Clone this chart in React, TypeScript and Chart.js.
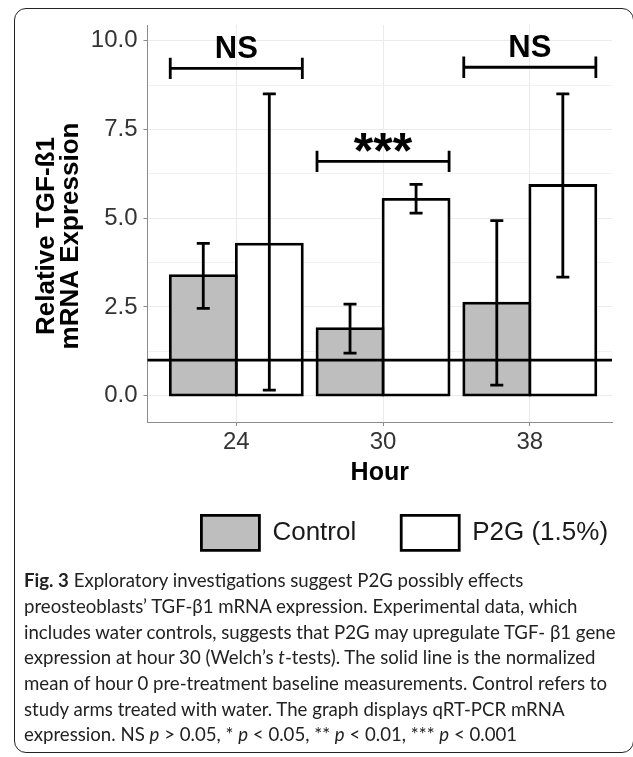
import React, { useEffect, useLayoutEffect, useRef, useState } from 'react';
import { Chart, registerables } from 'chart.js';

Chart.register(...registerables);

// ---------------- data ----------------
const HOURS = ['24', '30', '38'];
const SERIES_NAMES = ['Control', 'P2G (1.5%)'];
const CONTROL_MEAN = [3.38, 1.89, 2.61];
const CONTROL_LOW = [2.46, 1.2, 0.3];
const CONTROL_HIGH = [4.29, 2.58, 4.93];
const P2G_MEAN = [4.27, 5.53, 5.92];
const P2G_LOW = [0.16, 5.14, 3.34];
const P2G_HIGH = [8.5, 5.95, 8.5];
const BASELINE = 1.0;
const SIG_LABELS = ['NS', '***', 'NS'];
const SIG_HEIGHT = [9.22, 6.6, 9.25];
const Y_TICKS = [0, 2.5, 5, 7.5, 10];
const Y_TITLE = ['Relative TGF-ß1', 'mRNA Expression'];
const X_TITLE = 'Hour';

const CAPTION_LINES: Array<Array<[string, string?]>> = [
  [['Fig. 3', 'b'], [' Exploratory investigations suggest P2G possibly effects']],
  [['preosteoblasts’ TGF-β1 mRNA expression. Experimental data, which']],
  [['includes water controls, suggests that P2G may upregulate TGF- β1 gene']],
  [['expression at hour 30 (Welch’s '], ['t', 'i'], ['-tests). The solid line is the normalized']],
  [['mean of hour 0 pre-treatment baseline measurements. Control refers to']],
  [['study arms treated with water. The graph displays qRT-PCR mRNA']],
  [
    ['expression. NS '], ['p', 'i'], [' > 0.05, * '], ['p', 'i'], [' < 0.05, ** '], ['p', 'i'],
    [' < 0.01, *** '], ['p', 'i'], [' < 0.001'],
  ],
];

// ---------------- styles ----------------
const FONT = '"Liberation Sans", Arial, Helvetica, sans-serif';
const CONTROL_FILL = '#bebebe';
const P2G_FILL = '#ffffff';
const STROKE = '#000000';
const LINE_W = 2.8;
const CAP_HALF = 6.5;
const TIP = 0.3;
const GRID_MAJOR = '#ebebeb';
const GRID_MINOR = '#f1f1f1';
const AXIS_GRAY = '#8c8c8c';
const TICK_TEXT = '#333333';
const SIG_STYLE: Record<string, { size: number; dy: number }> = {
  NS: { size: 31, dy: -10 },
  '***': { size: 50, dy: 7 },
};
const LEGEND_LEFT = 156.4;
const LEGEND_TOP = 470.4;
const Y_TITLE_X = 47;
const Y_TITLE_SHIFT = 12.5;
const Y_TITLE_SIZE = 26;
const Y_TITLE_LINE = 24;

const ERRORS = [
  [CONTROL_LOW, CONTROL_HIGH],
  [P2G_LOW, P2G_HIGH],
];

const annotations = {
  id: 'annotations',
  afterDatasetsDraw(chart: any) {
    const { ctx, chartArea } = chart;
    const y = chart.scales.y;
    const metas = [chart.getDatasetMeta(0), chart.getDatasetMeta(1)];
    ctx.save();
    ctx.strokeStyle = STROKE;
    ctx.lineWidth = LINE_W;
    ctx.lineCap = 'butt';

    // error bars
    metas.forEach((meta: any, d: number) => {
      const [lo, hi] = ERRORS[d];
      meta.data.forEach((bar: any, i: number) => {
        const x = bar.x;
        const y1 = y.getPixelForValue(lo[i]);
        const y2 = y.getPixelForValue(hi[i]);
        ctx.beginPath();
        ctx.moveTo(x, y1);
        ctx.lineTo(x, y2);
        ctx.moveTo(x - CAP_HALF, y1);
        ctx.lineTo(x + CAP_HALF, y1);
        ctx.moveTo(x - CAP_HALF, y2);
        ctx.lineTo(x + CAP_HALF, y2);
        ctx.stroke();
      });
    });

    // baseline (hour 0 normalized mean)
    const yb = y.getPixelForValue(BASELINE);
    ctx.beginPath();
    ctx.moveTo(chartArea.left, yb);
    ctx.lineTo(chartArea.right, yb);
    ctx.stroke();

    // significance brackets
    SIG_LABELS.forEach((label, i) => {
      const a = metas[0].data[i];
      const b = metas[1].data[i];
      const x1 = a.x - a.width / 2;
      const x2 = b.x + b.width / 2;
      const yy = y.getPixelForValue(SIG_HEIGHT[i]);
      const yTop = y.getPixelForValue(SIG_HEIGHT[i] + TIP);
      const yBot = y.getPixelForValue(SIG_HEIGHT[i] - TIP);
      ctx.beginPath();
      ctx.moveTo(x1, yy);
      ctx.lineTo(x2, yy);
      ctx.moveTo(x1, yTop);
      ctx.lineTo(x1, yBot);
      ctx.moveTo(x2, yTop);
      ctx.lineTo(x2, yBot);
      ctx.stroke();
      const st = SIG_STYLE[label] || { size: 31, dy: -10 };
      ctx.fillStyle = STROKE;
      ctx.font = `bold ${st.size}px ${FONT}`;
      ctx.textAlign = 'center';
      ctx.textBaseline = 'alphabetic';
      ctx.fillText(label, (x1 + x2) / 2, yy + st.dy);
    });
    ctx.restore();
  },
};

// y-axis title, two centred lines, rotated
const yAxisTitle = {
  id: 'yAxisTitle',
  afterDraw(chart: any) {
    const s = chart.scales.y;
    const text = s.options.title.text;
    const lines = Array.isArray(text) ? text : [text];
    const ctx = chart.ctx;
    ctx.save();
    ctx.translate(Y_TITLE_X, (s.top + s.bottom) / 2 + Y_TITLE_SHIFT);
    ctx.rotate(-Math.PI / 2);
    ctx.fillStyle = '#000';
    ctx.font = `bold ${Y_TITLE_SIZE}px ${FONT}`;
    ctx.textAlign = 'center';
    ctx.textBaseline = 'middle';
    lines.forEach((l: string, i: number) => ctx.fillText(l, 0, i * Y_TITLE_LINE));
    ctx.restore();
  },
};

const legendPlacement = {
  id: 'legendPlacement',
  afterLayout(chart: any) {
    const lg = chart.legend;
    if (!lg) return;
    lg.left = LEGEND_LEFT;
    lg.right = LEGEND_LEFT + 620;
    lg.top = LEGEND_TOP;
    lg.bottom = LEGEND_TOP + lg.height;
  },
};

function makeConfig(): any {
  return {
    type: 'bar',
    data: {
      datasets: [
        {
          label: SERIES_NAMES[0],
          data: CONTROL_MEAN.map((v, i) => ({ x: i, y: v })),
          backgroundColor: CONTROL_FILL,
          borderColor: STROKE,
          borderWidth: LINE_W,
          borderSkipped: false,
          inflateAmount: LINE_W / 2,
        },
        {
          label: SERIES_NAMES[1],
          data: P2G_MEAN.map((v, i) => ({ x: i, y: v })),
          backgroundColor: P2G_FILL,
          borderColor: STROKE,
          borderWidth: LINE_W,
          borderSkipped: false,
          inflateAmount: LINE_W / 2,
        },
      ],
    },
    options: {
      animation: false,
      responsive: true,
      maintainAspectRatio: false,
      events: [],
      categoryPercentage: 0.9,
      barPercentage: 1.0,
      layout: { padding: { left: 20, right: 21, top: 25, bottom: 0 } },
      plugins: {
        tooltip: { enabled: false },
        legend: {
          display: true,
          position: 'bottom',
          align: 'start',
          labels: {
            boxWidth: 58,
            boxHeight: 35,
            padding: 45,
            color: '#1a1a1a',
            font: { family: FONT, size: 26 },
          },
        },
      },
      scales: {
        x: {
          type: 'linear',
          min: -0.605,
          max: 2.56,
          offset: false,
          afterFit: (s: any) => {
            s.height = 78;
          },
          grid: {
            offset: false,
            color: GRID_MAJOR,
            lineWidth: 1,
            tickLength: 4,
            tickColor: AXIS_GRAY,
          },
          border: { display: true, color: AXIS_GRAY, width: 1 },
          ticks: {
            stepSize: 1,
            includeBounds: false,
            autoSkip: false,
            maxRotation: 0,
            padding: 2,
            color: TICK_TEXT,
            font: { family: FONT, size: 24 },
            callback: (v: number) => HOURS[v] ?? '',
          },
          title: {
            display: true,
            text: X_TITLE,
            color: '#000',
            font: { family: FONT, size: 25, weight: 'bold', lineHeight: 1.2 },
            padding: { top: 0, bottom: 12 },
          },
        },
        y: {
          type: 'linear',
          min: -0.74,
          max: 10.44,
          afterFit: (s: any) => {
            s.width = 127.5;
          },
          grid: {
            color: (c: any) => (c.tick && Y_TICKS.includes(c.tick.value) ? GRID_MAJOR : GRID_MINOR),
            lineWidth: 1,
            tickLength: 4,
            tickColor: (c: any) => (c.tick && Y_TICKS.includes(c.tick.value) ? AXIS_GRAY : 'rgba(0,0,0,0)'),
          },
          border: { display: true, color: AXIS_GRAY, width: 1 },
          ticks: {
            stepSize: 1.25,
            includeBounds: false,
            autoSkip: false,
            padding: 6,
            color: TICK_TEXT,
            font: { family: FONT, size: 24 },
            callback: (v: number) => (Y_TICKS.includes(v) ? v.toFixed(1) : ''),
          },
          title: {
            display: false,
            text: Y_TITLE,
          },
        },
      },
    },
    plugins: [annotations, yAxisTitle, legendPlacement],
  };
}

function Caption() {
  const measureRef = useRef<HTMLSpanElement>(null);
  const [sx, setSx] = useState(1);
  useLayoutEffect(() => {
    if (measureRef.current) {
      const w = measureRef.current.offsetWidth;
      if (w > 0) setSx(554 / w);
    }
  }, []);
  return (
    <div
      style={{
        position: 'absolute',
        left: 24,
        top: 567.3,
        fontFamily: 'Lato, "Open Sans", sans-serif',
        fontSize: 19,
        lineHeight: '25.7px',
        color: '#222',
      }}
    >
      {CAPTION_LINES.map((line, li) => (
        <div
          key={li}
          style={{ whiteSpace: 'nowrap', transform: `scaleX(${sx})`, transformOrigin: '0 0', height: '25.7px' }}
        >
          <span ref={li === 1 ? measureRef : undefined} style={{ display: 'inline-block' }}>
            {line.map(([t, s], si) =>
              s === 'b' ? (
                <b key={si}>{t}</b>
              ) : s === 'i' ? (
                <i key={si}>{t}</i>
              ) : (
                <span key={si}>{t}</span>
              )
            )}
          </span>
        </div>
      ))}
    </div>
  );
}

export default function App() {
  const canvasRef = useRef<HTMLCanvasElement>(null);
  useEffect(() => {
    if (!canvasRef.current) return;
    const chart = new Chart(canvasRef.current, makeConfig());
    return () => chart.destroy();
  }, []);
  return (
    <div
      style={{
        position: 'absolute',
        left: 0,
        top: 0,
        width: 633,
        height: 757,
        background: '#fff',
        overflow: 'hidden',
      }}
    >
      <div
        style={{
          position: 'absolute',
          left: 13.5,
          top: 7.5,
          width: 620,
          height: 745,
          border: '1.5px solid #222',
          borderRadius: 12,
          boxSizing: 'border-box',
        }}
      />
      <div style={{ position: 'absolute', left: 0, top: 0, width: 633, height: 590 }}>
        <canvas ref={canvasRef} />
      </div>
      <Caption />
    </div>
  );
}
